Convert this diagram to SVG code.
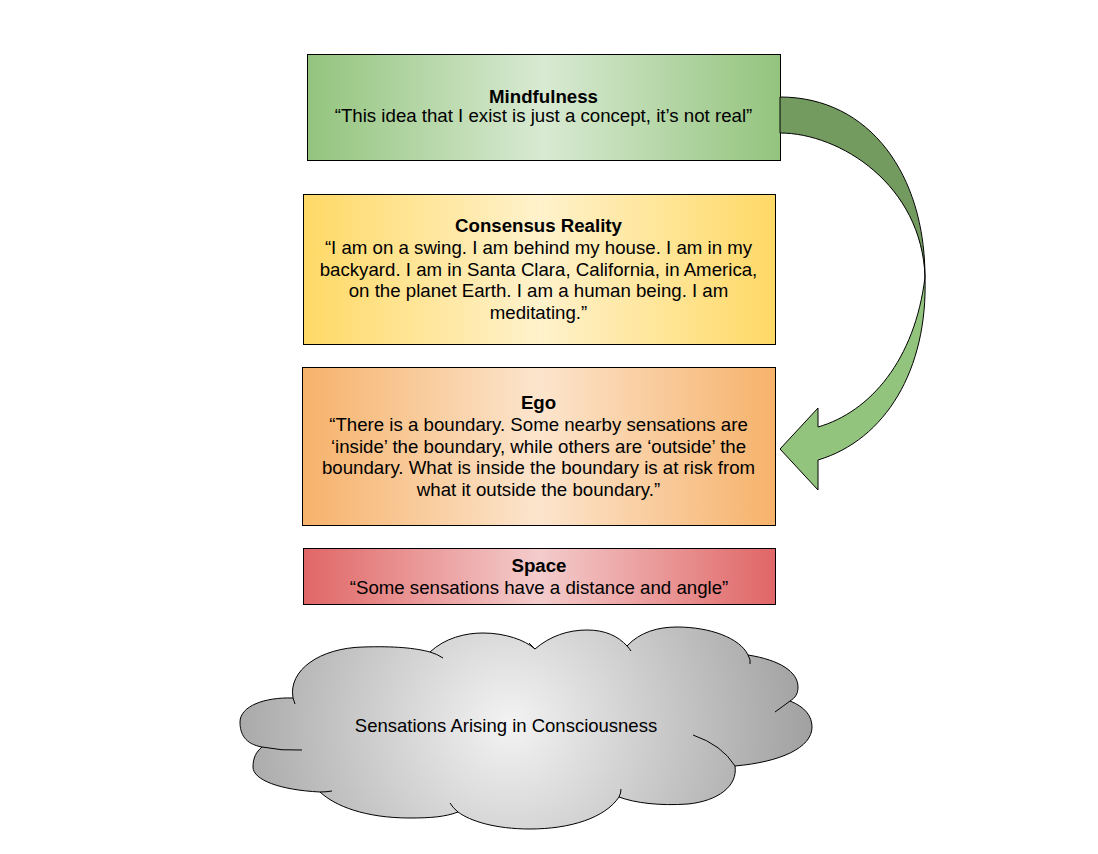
<svg xmlns="http://www.w3.org/2000/svg" width="1098" height="854" viewBox="0 0 1098 854">
<style>
.box{stroke:#000;stroke-width:1}
.t{font-family:"Liberation Sans",Arial,sans-serif;font-size:18.67px;fill:#000;text-anchor:middle}
.b{font-weight:bold}
.arr{stroke:#000;stroke-width:1;stroke-linejoin:round}
</style>
<defs>
<linearGradient id="gGreen" x1="0" y1="0" x2="1" y2="0"><stop offset="0" stop-color="#93c47d"/><stop offset="0.5" stop-color="#d9ead3"/><stop offset="1" stop-color="#93c47d"/></linearGradient>
<linearGradient id="gYellow" x1="0" y1="0" x2="1" y2="0"><stop offset="0" stop-color="#ffd966"/><stop offset="0.5" stop-color="#fff2cc"/><stop offset="1" stop-color="#ffd966"/></linearGradient>
<linearGradient id="gOrange" x1="0" y1="0" x2="1" y2="0"><stop offset="0" stop-color="#f6b26b"/><stop offset="0.5" stop-color="#fce5cd"/><stop offset="1" stop-color="#f6b26b"/></linearGradient>
<linearGradient id="gRed" x1="0" y1="0" x2="1" y2="0"><stop offset="0" stop-color="#e06666"/><stop offset="0.5" stop-color="#f4cccc"/><stop offset="1" stop-color="#e06666"/></linearGradient>
<radialGradient id="gGray" gradientUnits="userSpaceOnUse" cx="510" cy="724" r="330"><stop offset="0" stop-color="#f3f3f3"/><stop offset="1" stop-color="#999999"/></radialGradient>
</defs>
<rect width="1098" height="854" fill="#fff"/>

<g id="mindfulness">
<rect class="box" x="307.5" y="54.5" width="473" height="106" fill="url(#gGreen)"/>
<text class="t b" x="543.5" y="103">Mindfulness</text>
<text class="t" x="543.5" y="122">“This idea that I exist is just a concept, it’s not real”</text>
</g>

<g id="consensus-reality">
<rect class="box" x="303.5" y="194.5" width="472" height="150" fill="url(#gYellow)"/>
<text class="t b" x="538.5" y="232">Consensus Reality</text>
<text class="t" x="538.5" y="253.8">“I am on a swing. I am behind my house. I am in my</text>
<text class="t" x="538.5" y="275.6">backyard. I am in Santa Clara, California, in America,</text>
<text class="t" x="538.5" y="297.4">on the planet Earth. I am a human being. I am</text>
<text class="t" x="538.5" y="319.2">meditating.”</text>
</g>

<g id="ego">
<rect class="box" x="302.5" y="367.5" width="473" height="158" fill="url(#gOrange)"/>
<text class="t b" x="538.5" y="409.3">Ego</text>
<text class="t" x="538.5" y="431">“There is a boundary. Some nearby sensations are</text>
<text class="t" x="538.5" y="452.7">‘inside’ the boundary, while others are ‘outside’ the</text>
<text class="t" x="538.5" y="474.4">boundary. What is inside the boundary is at risk from</text>
<text class="t" x="538.5" y="496.1">what it outside the boundary.”</text>
</g>

<g id="space">
<rect class="box" x="303.5" y="548.5" width="472" height="56" fill="url(#gRed)"/>
<text class="t b" x="539" y="572.3">Space</text>
<text class="t" x="539" y="593.5">“Some sensations have a distance and angle”</text>
</g>

<g id="sensations">
<path fill="url(#gGray)" stroke="#000" stroke-width="1" d="M 262,747 C 245,744 240,734 240,722 C 240,706 265,697 293,698 C 288,670 320,648 363,647 C 395,646 415,648 430,652 C 445,638 465,633 483,633 C 505,633 525,640 535,649 C 550,636 568,630 587,630 C 605,630 618,636 627,646 C 640,632 658,627 677,627 C 710,627 740,638 748,655 C 780,660 798,672 798,687 C 798,694 795,698 790,701 C 805,707 812,716 812,727 C 812,748 780,762 735,766 C 738,786 718,801 688,804 C 660,806 635,803 619,797 C 605,818 570,829 530,829 C 495,829 470,821 458,812 C 445,817 430,818 410,818 C 365,818 335,806 320,792 C 280,790 253,780 253,767 C 253,758 256,752 262,747 Z"/>
<path fill="none" stroke="#000" stroke-width="1" d="M 262,747 Q 282,751 302,750 M 293,698 Q 294,701 295,704 M 430,652 Q 437,654 443,658 M 535,649 Q 532,646 529,643 M 627,646 Q 629,648 631,651 M 748,655 Q 751,660 750,664 M 790,701 Q 782,707 775,712 M 693,735 Q 722,745 735,766 M 619,797 Q 621,793 621,789 M 458,812 Q 453,808 450,803 M 320,792 Q 326,792 332,791"/>
<text class="t" style="font-size:18.5px" x="506" y="732">Sensations Arising in Consciousness</text>
</g>

<g id="connectors">
<path class="arr" fill="#739a5f" d="M 780,97 C 870,97 925,175 925,277 C 922,185 840,133 780,133 Z"/>
<path class="arr" fill="#93c47d" d="M 925,277 C 928,370 885,440 818,460 L 818,490 L 780,449 L 818,408 L 818,427 C 870,412 915,360 925,277 Z"/>
</g>
</svg>
